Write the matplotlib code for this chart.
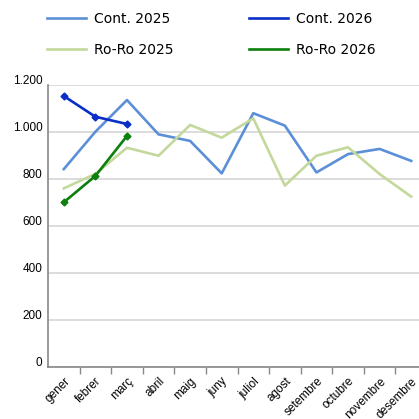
import numpy as np
import matplotlib.pyplot as plt
import matplotlib.transforms as mtransforms

months = ["gener", "febrer", "març", "abril", "maig", "juny", "juliol",
          "agost", "setembre", "octubre", "novembre", "desembre"]
cont_2025 = [842, 1001, 1136, 990, 962, 824, 1080, 1027, 828, 906, 928, 877]
roro_2025 = [760, 822, 933, 899, 1030, 976, 1058, 772, 899, 935, 821, 725]
cont_2026 = [1153, 1065, 1034]
roro_2026 = [701, 813, 983]
yticks = [0, 200, 400, 600, 800, 1000, 1200]
ytick_labels = ["0", "200", "400", "600", "800", "1.000", "1.200"]

fig = plt.figure(figsize=(4.19, 4.19), dpi=100)
ax = fig.add_axes([48/419, 1-367/419, (427-48)/419, (367-85)/419])

x = np.arange(len(months))
l1, = ax.plot(x, cont_2025, color="#5B8FD8", lw=1.9, label="Cont. 2025")
l2, = ax.plot(x, roro_2025, color="#C4D89C", lw=1.9, label="Ro-Ro 2025")
l3, = ax.plot(x[:3], cont_2026, color="#0A2FC8", lw=1.9, marker="D", ms=3.5,
              label="Cont. 2026")
l4, = ax.plot(x[:3], roro_2026, color="#0C7F0C", lw=1.9, marker="D", ms=3.5,
              label="Ro-Ro 2026")

ax.set_xlim(-0.5, len(months) - 0.5)
ax.set_ylim(0, 1200)
ax.set_yticks(yticks)
ax.set_yticklabels(ytick_labels, fontsize=8.5, family="Liberation Sans")
ax.tick_params(axis="y", length=0, pad=4)
# labels sit a little above their gridline
up = mtransforms.ScaledTranslation(0, 4/72, fig.dpi_scale_trans)
for lab in ax.get_yticklabels():
    lab.set_va("center_baseline")
    lab.set_transform(lab.get_transform() + up)
ax.grid(axis="y", color="#D9D9D9", lw=1.3)
ax.set_axisbelow(True)

ax.set_xticks(x)
ax.set_xticklabels(months, rotation=45, ha="right", rotation_mode="anchor",
                   fontsize=8.5, family="Liberation Sans")
ax.set_xticks(x[:-1] + 0.5, minor=True)
ax.tick_params(axis="x", which="major", length=0, pad=6)
ax.tick_params(axis="x", which="minor", length=5, color="#888888", width=1)

for s in ["top", "right"]:
    ax.spines[s].set_visible(False)
for s in ["left", "bottom"]:
    ax.spines[s].set_color("#888888")
    ax.spines[s].set_linewidth(1.2)

fig.legend(handles=[l1, l2, l3, l4], ncol=2, frameon=False,
           loc="upper left", bbox_to_anchor=(47/419, 1 - 12/419),
           borderaxespad=0, borderpad=0,
           fontsize=10, handlelength=2.8, columnspacing=5.4,
           labelspacing=1.2, handletextpad=0.6)
for h in fig.legends[0].legend_handles:
    h.set_marker("")

fig.savefig("out.png", dpi=100)
